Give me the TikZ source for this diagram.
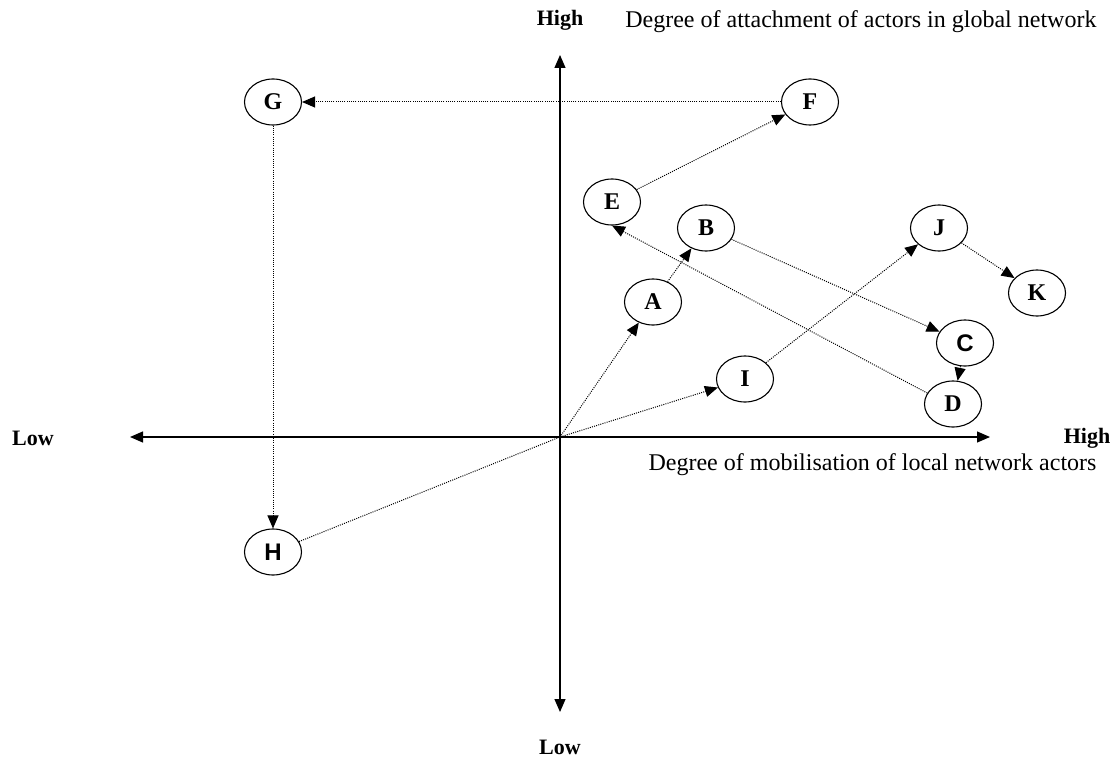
\documentclass[tikz,border=0pt]{standalone}
\usepackage{fontspec}
\setmainfont{Liberation Serif}
\newfontfamily\sansbold{Liberation Sans}
\usetikzlibrary{shapes.geometric,arrows.meta}
\begin{document}
\begin{tikzpicture}[x=1pt, y=-1pt,
    actorStyle/.style={ellipse, draw, line width=1.1pt, minimum width=57pt, minimum height=46pt, inner sep=0pt, font=\fontsize{24}{26}\selectfont\bfseries},
    linkStyle/.style={line width=1pt, dash pattern=on 1pt off 1.2pt, -{Triangle[length=13pt,width=11pt]}},
    axisStyle/.style={line width=1.2pt, {Triangle[length=13pt,width=11pt]}-{Triangle[length=13pt,width=11pt]}},
    axisLabel/.style={inner sep=1pt, font=\fontsize{22}{24}\selectfont\bfseries},
    axisTitle/.style={font=\fontsize{24}{26}\selectfont}]
                    \useasboundingbox (0,0) rectangle (1120,757);

                    \node[axisLabel](highY) at (560, 20) {High};
                    \node[axisLabel](lowY) at (560, 747) {Low};
                    \node[axisLabel](lowX) at (33, 438) {Low};
                    \node[axisLabel](highX) at (1087, 438) {High};
                    \node[axisTitle, anchor=east](titleY) at (1100, 22) {Degree of attachment of actors in global network};
                    \node[axisTitle, anchor=east](titleX) at (1100, 465) {Degree of mobilisation of local network actors};

                    \coordinate (O) at (560, 437);
                    \coordinate (xl) at (130, 437);
                    \coordinate (xr) at (990, 437);
                    \coordinate (yt) at (560, 55);
                    \coordinate (yb) at (560, 712);
                    \draw[axisStyle] (xl) -- (xr);
                    \draw[axisStyle] (yt) -- (yb);

                    \node[actorStyle](G) at (273, 102) {G};
                    \node[actorStyle](F) at (810, 102) {F};
                    \node[actorStyle](E) at (612, 202) {E};
                    \node[actorStyle](B) at (706, 228) {B};
                    \node[actorStyle](A) at (653, 302) {A};
                    \node[actorStyle](J) at (939, 228) {J};
                    \node[actorStyle](K) at (1037, 293) {K};
                    \node[actorStyle](C) at (965, 343) {\sansbold C};
                    \node[actorStyle](D) at (953, 404) {D};
                    \node[actorStyle](I) at (745, 379) {I};
                    \node[actorStyle](H) at (273, 552) {\sansbold H};

                    \draw[linkStyle] (F) -- (G);
                    \draw[linkStyle] (G) -- (H);
                    \draw[linkStyle] (H) -- (O) -- (I);
                    \draw[linkStyle] (O) -- (A);
                    \draw[linkStyle] (A) -- (B);
                    \draw[linkStyle] (E) -- (F);
                    \draw[linkStyle] (D.157) -- (E.south);
                    \draw[linkStyle] (B) -- (C);
                    \draw[linkStyle] (C) -- (D);
                    \draw[linkStyle] (I) -- (J);
                    \draw[linkStyle] (J) -- (K);
                \end{tikzpicture}
\end{document}
